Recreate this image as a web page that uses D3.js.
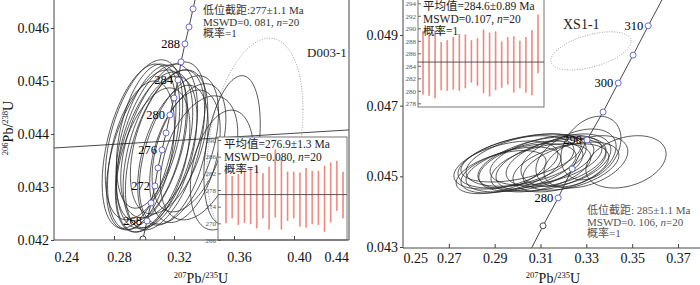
<!DOCTYPE html>
<html>
<head>
<meta charset="utf-8">
<script src="https://d3js.org/d3.v7.min.js"></script>
<style>
  body { margin: 0; background: #fff; }
  svg { display: block; font-family: "Liberation Serif", "Noto Sans CJK SC", serif; }
</style>
</head>
<body>
<svg id="chart" width="700" height="285"></svg>
<script>

// ---------- left panel: D003-1 ----------
var leftXTicks = [0.24, 0.28, 0.32, 0.36, 0.40, 0.44];
var leftYTicks = [0.042, 0.043, 0.044, 0.045, 0.046];

// concordia ages and ratios (207Pb/235U, 206Pb/238U)
var leftAges  = [264, 266, 268, 270, 272, 274, 276, 278, 280, 282, 284, 286, 288, 290, 292, 294];
var leftConcX = [0.2967, 0.2993, 0.3020, 0.3047, 0.3073, 0.3093, 0.3120, 0.3147, 0.3173, 0.3200, 0.3227, 0.3247, 0.3273, 0.3300, 0.3327, 0.3353];
var leftConcY = [0.04168, 0.04202, 0.04236, 0.04270, 0.04302, 0.04336, 0.04370, 0.04402, 0.04436, 0.04468, 0.04502, 0.04536, 0.04570, 0.04602, 0.04636, 0.04670];
var leftLabelAges = [268, 272, 276, 280, 284, 288];

// error ellipses: centre, half axes, correlation
var leftEllX   = [0.2967, 0.3000, 0.3020, 0.3047, 0.3067, 0.2980, 0.3087, 0.3107, 0.3127, 0.3027, 0.3140, 0.3167, 0.3060, 0.3193, 0.3233, 0.3273, 0.3300, 0.3367, 0.3587, 0.3520];
var leftEllY   = [0.04377, 0.04389, 0.04370, 0.04383, 0.04366, 0.04360, 0.04377, 0.04366, 0.04389, 0.04396, 0.04370, 0.04385, 0.04351, 0.04360, 0.04370, 0.04358, 0.04374, 0.04355, 0.04370, 0.04332];
var leftEllSX  = [0.0246, 0.0258, 0.0270, 0.0235, 0.0258, 0.0223, 0.0270, 0.0246, 0.0282, 0.0211, 0.0264, 0.0258, 0.0246, 0.0235, 0.0264, 0.0235, 0.0246, 0.0258, 0.0188, 0.0211];
var leftEllSY  = [0.00155, 0.00151, 0.00151, 0.00147, 0.00151, 0.00140, 0.00155, 0.00143, 0.00147, 0.00136, 0.00151, 0.00136, 0.00136, 0.00132, 0.00140, 0.00125, 0.00121, 0.00117, 0.00140, 0.00113];
var leftEllRho = [0.45, 0.45, 0.5, 0.45, 0.5, 0.4, 0.45, 0.45, 0.5, 0.4, 0.5, 0.45, 0.45, 0.45, 0.5, 0.4, 0.45, 0.4, 0.35, 0.3];
var leftDotted = [0.374, 0.04389, 0.032, 0.00192, 0.3];

// discordia through the lower intercept
var leftDiscX = [0.24, 0.44];
var leftDiscY = [0.043736, 0.044083];

// weighted mean inset (Ma)
var leftAgeTop = [282.6, 281.4, 281.8, 282.6, 283.2, 283.7, 282.0, 283.6, 287.7, 285.4, 282.4, 282.4, 282.2, 283.3, 282.6, 282.6, 283.8, 284.6, 285.0, 282.4];
var leftAgeBot = [270.0, 271.2, 269.6, 270.1, 269.8, 268.8, 271.2, 268.5, 271.4, 268.5, 270.6, 271.2, 269.2, 269.0, 269.8, 269.6, 268.0, 270.2, 273.0, 271.2];
var leftMean = 276.9;
var leftMeanTicks = [266, 270, 274, 278, 282, 286, 290];

// ---------- right panel: XS1-1 ----------
var rightXTicks = [0.25, 0.27, 0.29, 0.31, 0.33, 0.35, 0.37];
var rightYTicks = [0.043, 0.045, 0.047, 0.049];

var rightAges  = [270, 275, 280, 285, 290, 295, 300, 305, 310, 315];
var rightConcX = [0.3046, 0.3111, 0.3177, 0.3238, 0.3303, 0.3373, 0.3439, 0.3504, 0.3570, 0.3637];
var rightConcY = [0.04278, 0.04360, 0.04439, 0.04521, 0.04603, 0.04682, 0.04764, 0.04843, 0.04926, 0.05008];
var rightLabelAges = [280, 290, 300, 310];

var rightEllX   = [0.2949, 0.2993, 0.3015, 0.3037, 0.3058, 0.3080, 0.3102, 0.3124, 0.2971, 0.3146, 0.3168, 0.3189, 0.3015, 0.3211, 0.3233, 0.3255, 0.3298, 0.3320, 0.3473, 0.2928];
var rightEllY   = [0.04532, 0.04541, 0.04524, 0.04546, 0.04529, 0.04538, 0.04524, 0.04546, 0.04518, 0.04532, 0.04541, 0.04524, 0.04552, 0.04546, 0.04529, 0.04552, 0.04541, 0.04580, 0.04541, 0.04512];
var rightEllSX  = [0.0227, 0.0253, 0.0240, 0.0262, 0.0227, 0.0253, 0.0218, 0.0244, 0.0218, 0.0240, 0.0218, 0.0209, 0.0262, 0.0196, 0.0209, 0.0175, 0.0183, 0.0131, 0.0175, 0.0196];
var rightEllSY  = [0.00068, 0.00074, 0.00068, 0.00074, 0.00071, 0.00074, 0.00068, 0.00071, 0.00065, 0.00074, 0.00071, 0.00068, 0.00068, 0.00074, 0.00068, 0.00082, 0.00074, 0.00090, 0.00074, 0.00061];
var rightEllRho = [0.45, 0.45, 0.5, 0.45, 0.45, 0.5, 0.45, 0.45, 0.5, 0.45, 0.45, 0.45, 0.5, 0.4, 0.45, 0.4, 0.4, 0.3, 0.3, 0.5];
var rightDotted = [0.3320, 0.04855, 0.0175, 0.00054, 0.5];

var rightAgeTop = [289.6, 288.9, 289.6, 287.8, 288.1, 288.6, 289.1, 289.0, 288.1, 288.4, 289.8, 289.3, 289.5, 287.9, 288.6, 288.7, 288.0, 288.6, 289.7, 292.2];
var rightAgeBot = [279.4, 279.2, 278.8, 280.1, 280.0, 280.2, 280.0, 280.4, 281.3, 280.8, 279.6, 279.1, 280.1, 280.5, 281.0, 279.7, 280.4, 279.7, 279.3, 282.8];
var rightMean = 284.6;
var rightMeanTicks = [278, 280, 282, 284, 286, 288, 290, 292, 294];


var svg = d3.select("#chart");
var axisColor = "#444";

function ellipsePath(x, y, cx, cy, sx, sy, rho) {
  // parametric error ellipse with correlation rho
  var k = Math.sqrt(1 - rho * rho);
  var pts = d3.range(0, 96).map(function (i) {
    var t = i / 96 * 2 * Math.PI;
    return [x(cx + sx * Math.cos(t)), y(cy + sy * (rho * Math.cos(t) + k * Math.sin(t)))];
  });
  return d3.line()(pts) + "Z";
}

function drawPanel(p) {
  var x = d3.scaleLinear().domain(p.xDomain).range(p.xRange);
  var y = d3.scaleLinear().domain(p.yDomain).range(p.yRange);

  svg.append("clipPath").attr("id", p.id + "-clip")
    .append("rect")
      .attr("x", p.frame[0]).attr("y", p.frame[1])
      .attr("width", p.frame[2] - p.frame[0]).attr("height", p.frame[3] - p.frame[1]);

  var g = svg.append("g").attr("clip-path", "url(#" + p.id + "-clip)");

  // discordia line
  if (p.discX) {
    g.append("line")
      .attr("x1", x(p.discX[0])).attr("y1", y(p.discY[0]))
      .attr("x2", x(p.discX[1])).attr("y2", y(p.discY[1]))
      .attr("stroke", "#333").attr("stroke-width", 0.9);
  }

  // dotted reference ellipse
  var d = p.dotted;
  g.append("path")
    .attr("d", ellipsePath(x, y, d[0], d[1], d[2], d[3], d[4]))
    .attr("fill", "none").attr("stroke", "#999")
    .attr("stroke-width", 0.9).attr("stroke-dasharray", "1,1.5");

  // analysis ellipses
  g.selectAll("path.ell")
    .data(d3.range(p.ellX.length))
    .enter().append("path")
      .attr("class", "ell")
      .attr("d", function (i) {
        return ellipsePath(x, y, p.ellX[i], p.ellY[i], p.ellSX[i], p.ellSY[i], p.ellRho[i]);
      })
      .attr("fill", "none").attr("stroke", "#222").attr("stroke-width", 0.75);

  // concordia curve
  var conc = p.ages.map(function (a, i) { return [p.concX[i], p.concY[i], a]; });
  g.append("path")
    .attr("d", d3.line().x(function (c) { return x(c[0]); }).y(function (c) { return y(c[1]); })(conc))
    .attr("fill", "none").attr("stroke", "#333").attr("stroke-width", 0.9);

  g.selectAll("circle.age")
    .data(conc.filter(function (c) { return c[2] >= p.circleAges[0] && c[2] <= p.circleAges[1]; }))
    .enter().append("circle")
      .attr("class", "age")
      .attr("cx", function (c) { return x(c[0]); })
      .attr("cy", function (c) { return y(c[1]); })
      .attr("r", 3)
      .attr("fill", "#fff").attr("stroke-width", 0.9)
      .attr("stroke", function (c) { return c[2] === p.circleAges[0] ? "#333" : "#5c5cc8"; });

  g.selectAll("text.age")
    .data(conc.filter(function (c) { return p.labelAges.indexOf(c[2]) >= 0; }))
    .enter().append("text")
      .attr("class", "age")
      .attr("x", function (c) { return x(c[0]) - 5; })
      .attr("y", function (c) { return y(c[1]) + 4; })
      .attr("text-anchor", "end")
      .style("font-size", "12.5px")
      .text(function (c) { return c[2]; });

  // weighted mean inset
  var b = p.inset;
  svg.append("rect")
    .attr("x", b[0]).attr("y", b[1]).attr("width", b[2] - b[0]).attr("height", b[3] - b[1])
    .attr("fill", "#fff").attr("stroke", "#666").attr("stroke-width", 0.9);

  var ix = d3.scaleLinear().domain([0, p.ageTop.length - 1]).range(p.insetBars);
  var iy = d3.scaleLinear().domain(p.insetYDomain).range(p.insetYRange);

  var bars = svg.append("g");
  bars.selectAll("line.bar")
    .data(p.ageTop)
    .enter().append("line")
      .attr("class", "bar")
      .attr("x1", function (v, i) { return ix(i); }).attr("x2", function (v, i) { return ix(i); })
      .attr("y1", function (v) { return iy(v); })
      .attr("y2", function (v, i) { return iy(p.ageBot[i]); })
      .attr("stroke", "#f6b2aa").attr("stroke-width", 1.8);
  bars.selectAll("line.bar2")
    .data(p.ageTop)
    .enter().append("line")
      .attr("class", "bar2")
      .attr("x1", function (v, i) { return ix(i); }).attr("x2", function (v, i) { return ix(i); })
      .attr("y1", function (v) { return iy(v); })
      .attr("y2", function (v, i) { return iy(p.ageBot[i]); })
      .attr("stroke", "#ea5a4a").attr("stroke-width", 0.55);

  svg.append("line")
    .attr("x1", b[0]).attr("x2", b[2])
    .attr("y1", iy(p.mean)).attr("y2", iy(p.mean))
    .attr("stroke", "#444").attr("stroke-width", 0.9);

  var ia = svg.append("g")
    .attr("transform", "translate(" + b[0] + ",0)")
    .call(d3.axisLeft(iy).tickValues(p.meanTicks).tickSize(-3).tickPadding(2));
  ia.select(".domain").remove();
  ia.selectAll("line").attr("stroke", "#666");
  ia.selectAll("text").attr("fill", "#555").style("font-size", "7px").style("font-family", "Liberation Serif");

  var it = svg.append("text")
    .attr("x", p.insetText[0]).attr("y", p.insetText[1])
    .attr("fill", "#222").style("font-size", "11.5px");
  p.insetLines.forEach(function (line, i) {
    var ts = it.append("tspan").attr("x", p.insetText[0]).attr("dy", i === 0 ? 0 : 12.5);
    appendRich(ts, line);
  });

  // annotation block
  var at = svg.append("text")
    .attr("x", p.noteText[0]).attr("y", p.noteText[1])
    .attr("fill", p.noteColor).style("font-size", "11px");
  p.noteLines.forEach(function (line, i) {
    var ts = at.append("tspan").attr("x", p.noteText[0]).attr("dy", i === 0 ? 0 : 11.5);
    appendRich(ts, line);
  });

  svg.append("text")
    .attr("x", p.sample[0]).attr("y", p.sample[1])
    .style("font-size", p.sample[3])
    .attr("fill", "#222")
    .text(p.sample[2]);

  // frame
  var f = p.frame;
  svg.append("path")
    .attr("d", "M" + f[0] + "," + f[1] + "V" + f[3] + "H" + f[2] + (p.rightBorder ? "V" + f[1] : ""))
    .attr("fill", "none").attr("stroke", axisColor).attr("stroke-width", 1);

  // axes
  var xa = svg.append("g")
    .attr("transform", "translate(0," + f[3] + ")")
    .call(d3.axisBottom(x).tickValues(p.xTicks).tickSize(-4).tickPadding(p.xPad)
      .tickFormat(d3.format(".2f")));
  xa.select(".domain").remove();
  xa.selectAll("line").attr("stroke", axisColor);
  xa.selectAll("text").attr("fill", "#111").style("font-size", "14px").style("font-family", "Liberation Serif");
  p.xLabelFix(xa.selectAll(".tick"));

  var ya = svg.append("g")
    .attr("transform", "translate(" + f[0] + ",0)")
    .call(d3.axisLeft(y).tickValues(p.yTicks).tickSize(3).tickPadding(2)
      .tickFormat(d3.format(".3f")));
  ya.select(".domain").remove();
  ya.selectAll("line").attr("stroke", axisColor);
  ya.selectAll("text").attr("fill", "#111").style("font-size", "14px").style("font-family", "Liberation Serif");

  // x title 207Pb/235U
  var xt = svg.append("text")
    .attr("x", p.xTitle[0]).attr("y", p.xTitle[1])
    .attr("text-anchor", "middle").style("font-size", "14px").attr("fill", "#111");
  isotope(xt, "207", "235");
}

function isotope(t, a, b) {
  t.append("tspan").text(a).style("font-size", "8.5px").attr("dy", -5);
  t.append("tspan").text("Pb/").attr("dy", 5);
  t.append("tspan").text(b).style("font-size", "8.5px").attr("dy", -5);
  t.append("tspan").text("U").attr("dy", 5);
}

// lines may hold an italic n: written as [plain, italic, plain]
function appendRich(ts, line) {
  if (typeof line === "string") { ts.text(line); return; }
  ts.append("tspan").text(line[0]);
  ts.append("tspan").text(line[1]).style("font-style", "italic");
  ts.append("tspan").text(line[2]);
}

drawPanel({
  id: "left",
  xDomain: [0.24, 0.44], xRange: [54, 354],
  yDomain: [0.042, 0.046], yRange: [240, 28],
  frame: [54, 0, 349, 240], rightBorder: true,
  xTicks: leftXTicks, yTicks: leftYTicks, xPad: 12,
  xLabelFix: function (ticks) {
    ticks.select("text").attr("dx", 5);
    ticks.filter(function (d, i) { return i === 0; }).select("text").attr("text-anchor", "start").attr("dx", 0);
    ticks.filter(function (d, i) { return i === leftXTicks.length - 1; })
      .attr("transform", "translate(349,0)")
      .select("text").attr("text-anchor", "end").attr("dx", 0);
    ticks.filter(function (d, i) { return i === 0 || i === leftXTicks.length - 1; }).select("line").remove();
  },
  ages: leftAges, concX: leftConcX, concY: leftConcY,
  circleAges: [266, 292], labelAges: leftLabelAges,
  ellX: leftEllX, ellY: leftEllY, ellSX: leftEllSX, ellSY: leftEllSY, ellRho: leftEllRho,
  dotted: leftDotted,
  discX: leftDiscX, discY: leftDiscY,
  inset: [218, 137, 347, 240],
  insetBars: [226, 343], insetYDomain: [266, 290], insetYRange: [240, 140],
  ageTop: leftAgeTop, ageBot: leftAgeBot, mean: leftMean, meanTicks: leftMeanTicks,
  insetText: [224, 148],
  insetLines: ["平均值=276.9±1.3 Ma", ["MSWD=0.080, ", "n", "=20"], "概率=1"],
  noteText: [203, 14], noteColor: "#333",
  noteLines: ["低位截距:277±1.1 Ma", ["MSWD=0. 081, ", "n", "=20"], "概率=1"],
  sample: [307, 57, "D003-1", "13px"],
  xTitle: [201, 283]
});

drawPanel({
  id: "right",
  xDomain: [0.25, 0.37], xRange: [403, 678],
  yDomain: [0.043, 0.049], yRange: [247, 35],
  frame: [403, 0, 700, 248], rightBorder: false,
  xTicks: rightXTicks, yTicks: rightYTicks, xPad: 5,
  xLabelFix: function (ticks) {
    ticks.filter(function (d, i) { return i === 0; }).select("text").attr("text-anchor", "start");
    ticks.filter(function (d, i) { return i === 0; }).select("line").remove();
  },
  ages: rightAges, concX: rightConcX, concY: rightConcY,
  circleAges: [275, 310], labelAges: rightLabelAges,
  ellX: rightEllX, ellY: rightEllY, ellSX: rightEllSX, ellSY: rightEllSY, ellRho: rightEllRho,
  dotted: rightDotted,
  inset: [418, -1, 544, 107],
  insetBars: [423, 538], insetYDomain: [278, 294], insetYRange: [103.3, 3.3],
  ageTop: rightAgeTop, ageBot: rightAgeBot, mean: rightMean, meanTicks: rightMeanTicks,
  insetText: [423, 10],
  insetLines: ["平均值=284.6±0.89 Ma", ["MSWD=0.107, ", "n", "=20"], "概率=1"],
  noteText: [587, 214], noteColor: "#555",
  noteLines: ["低位截距: 285±1.1 Ma", ["MSWD=0. 106, ", "n", "=20"], "概率=1"],
  sample: [563, 29, "XS1-1", "14px"],
  xTitle: [553, 283]
});

// y title of the left panel
var yt = svg.append("text")
  .attr("transform", "translate(13,128) rotate(-90)")
  .attr("text-anchor", "middle").style("font-size", "14px").attr("fill", "#111");
isotope(yt, "206", "238");

</script>
</body>
</html>
